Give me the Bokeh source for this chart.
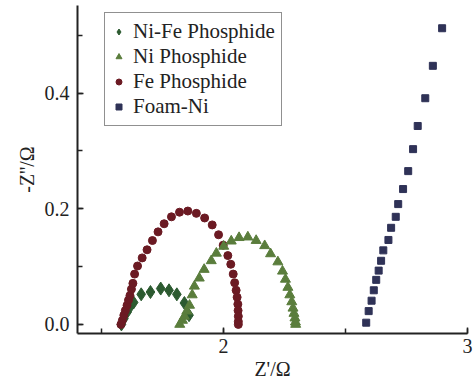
from bokeh.plotting import figure
from bokeh.models import Range1d, SingleIntervalTicker, NumeralTickFormatter, Legend, LegendItem
from bokeh.embed import file_html
from bokeh.resources import INLINE

# Ni-Fe Phosphide
nife_x = [1.582, 1.592, 1.605, 1.617, 1.632, 1.663, 1.701, 1.743, 1.777, 1.809, 1.840, 1.859]
nife_y = [0.000, 0.010, 0.021, 0.030, 0.038, 0.052, 0.056, 0.062, 0.059, 0.052, 0.037, 0.016]

# Ni Phosphide
ni_x = [1.821, 1.832, 1.840, 1.850, 1.861, 1.872, 1.881, 1.901, 1.921, 1.950, 1.971, 2.001,
        2.032, 2.064, 2.100, 2.134, 2.169, 2.193, 2.223, 2.242, 2.254, 2.264, 2.272, 2.280,
        2.285, 2.289, 2.293, 2.295, 2.296]
ni_y = [0.000, 0.007, 0.014, 0.023, 0.033, 0.051, 0.066, 0.080, 0.095, 0.110, 0.123, 0.135,
        0.144, 0.150, 0.151, 0.145, 0.136, 0.122, 0.108, 0.092, 0.078, 0.064, 0.051, 0.039,
        0.028, 0.019, 0.011, 0.004, 0.000]

# Fe Phosphide
fe_x = [1.580, 1.586, 1.592, 1.598, 1.605, 1.611, 1.617, 1.623, 1.629, 1.636, 1.648, 1.667,
        1.687, 1.709, 1.732, 1.757, 1.787, 1.820, 1.854, 1.889, 1.923, 1.954, 1.980, 1.999,
        2.018, 2.030, 2.040, 2.046, 2.052, 2.056, 2.059, 2.060, 2.061, 2.061, 2.061]
fe_y = [0.000, 0.007, 0.016, 0.024, 0.033, 0.042, 0.050, 0.061, 0.071, 0.087, 0.101, 0.115,
        0.129, 0.145, 0.160, 0.174, 0.186, 0.194, 0.196, 0.192, 0.184, 0.172, 0.155, 0.137,
        0.119, 0.104, 0.087, 0.072, 0.059, 0.047, 0.035, 0.024, 0.014, 0.005, 0.000]

# Foam-Ni
foam_x = [2.585, 2.595, 2.607, 2.616, 2.626, 2.636, 2.646, 2.655, 2.676, 2.687, 2.706, 2.716,
          2.736, 2.757, 2.777, 2.796, 2.827, 2.858, 2.896]
foam_y = [0.003, 0.023, 0.041, 0.059, 0.077, 0.093, 0.110, 0.128, 0.146, 0.167, 0.186, 0.208,
          0.234, 0.265, 0.303, 0.343, 0.391, 0.447, 0.512]

labels = ["Ni-Fe Phosphide", "Ni Phosphide", "Fe Phosphide", "Foam-Ni"]
x_title = "Z'/Ω"
y_title = "-Z''/Ω"

FONT = "'Liberation Serif', 'Times New Roman', serif"

p = figure(width=475, height=382, output_backend="svg", toolbar_location=None,
           x_range=Range1d(1.402, 3.0), y_range=Range1d(-0.0157, 0.5513),
           min_border_left=77, min_border_right=8, min_border_top=5, min_border_bottom=0)
p.outline_line_color = None
p.xgrid.visible = False
p.ygrid.visible = False
p.background_fill_color = "white"
p.border_fill_color = "white"

r_nife = p.scatter(nife_x, nife_y, marker="diamond", size=13, fill_color="#2c5a30", line_color="#2c5a30")
r_fe = p.scatter(fe_x, fe_y, marker="circle", size=8, fill_color="#6b1a23", line_color="#6b1a23")
r_ni = p.scatter(ni_x, ni_y, marker="triangle", size=10, fill_color="#5a7d3c", line_color="#5a7d3c")
r_foam = p.scatter(foam_x, foam_y, marker="square", size=7, fill_color="#2f3257", line_color="#2f3257")

for ax in (p.xaxis[0], p.yaxis[0]):
    ax.axis_line_width = 2
    ax.axis_line_color = "#222222"
    ax.major_tick_line_color = "#222222"
    ax.minor_tick_line_color = "#222222"
    ax.major_tick_line_width = 1.5
    ax.minor_tick_line_width = 1.5
    ax.major_tick_in = 6
    ax.major_tick_out = 0
    ax.minor_tick_in = 5
    ax.minor_tick_out = 0
    ax.major_label_text_font = FONT
    ax.major_label_text_font_size = "20px"
    ax.major_label_text_color = "#222222"
    ax.axis_label_text_font = FONT
    ax.axis_label_text_font_size = "20px"
    ax.axis_label_text_font_style = "normal"
    ax.axis_label_text_color = "#222222"

p.xaxis.ticker = SingleIntervalTicker(interval=1, num_minor_ticks=2)
p.yaxis.ticker = SingleIntervalTicker(interval=0.2, num_minor_ticks=2)
p.yaxis.formatter = NumeralTickFormatter(format="0.0")
p.xaxis.axis_label = x_title
p.yaxis.axis_label = y_title
p.xaxis.major_label_standoff = 5
p.xaxis.axis_label_standoff = 2
p.yaxis.major_label_standoff = 8
p.yaxis.axis_label_standoff = 4

legend = Legend(items=[
    LegendItem(label=labels[0], renderers=[r_nife]),
    LegendItem(label=labels[1], renderers=[r_ni]),
    LegendItem(label=labels[2], renderers=[r_fe]),
    LegendItem(label=labels[3], renderers=[r_foam]),
], location=(27, 207))
legend.label_text_font = FONT
legend.label_text_font_size = "21px"
legend.label_text_color = "#222222"
legend.border_line_color = "#222222"
legend.border_line_width = 1
legend.background_fill_alpha = 1
legend.padding = 6
legend.spacing = 0
legend.glyph_width = 15
legend.glyph_height = 15
legend.label_standoff = 7
legend.label_height = 20
legend.margin = 0
p.add_layout(legend)

open("out.html", "w").write(file_html(p, INLINE))
